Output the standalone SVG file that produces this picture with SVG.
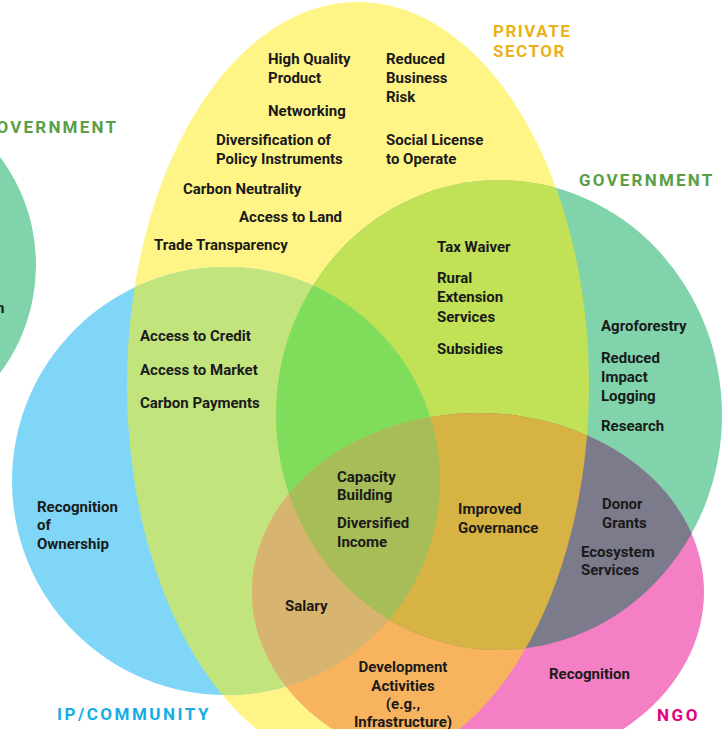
<svg xmlns="http://www.w3.org/2000/svg" width="727" height="729" viewBox="0 0 727 729">
<defs>
<style>
.t{font-family:Roboto,"Liberation Sans",sans-serif;font-weight:700;font-size:15px;fill:#1a1a1a}
.c{text-anchor:middle}
.lab{font-family:Roboto,"Liberation Sans",sans-serif;font-weight:700;font-size:17px}
.gov{fill:#5a9e47;letter-spacing:2.2px}
.ps{fill:#eab11b;letter-spacing:1.5px}
.ip{fill:#15ade6;letter-spacing:2.5px}
.ngo{fill:#e5007d;letter-spacing:2.6px}
</style>
<ellipse id="shY" cx="358" cy="385" rx="231" ry="383"/>
<circle id="shB" cx="226" cy="481" r="214"/>
<ellipse id="shG" cx="499" cy="415" rx="223" ry="235"/>
<ellipse id="shN" cx="478" cy="592" rx="226" ry="179"/>
<clipPath id="cY"><use href="#shY"/></clipPath>
<clipPath id="cB"><use href="#shB"/></clipPath>
<clipPath id="cG"><use href="#shG"/></clipPath>
</defs>
<rect width="727" height="729" fill="#ffffff"/>
<g id="shapes">
<circle id="gov-left" cx="-144" cy="265" r="180" fill="#80d3aa"/>
<use id="private-sector" href="#shY" fill="#fff586"/>
<use id="ip-community" href="#shB" fill="#80d6f7"/>
<use id="government" href="#shG" fill="#80d3aa"/>
<use id="ngo" href="#shN" fill="#f47fc4"/>
<use href="#shB" fill="#c1e47d" clip-path="url(#cY)"/>
<use href="#shG" fill="#c1e156" clip-path="url(#cY)"/>
<use href="#shN" fill="#f8b35f" clip-path="url(#cY)"/>
<use href="#shN" fill="#7b7b8b" clip-path="url(#cG)"/>
<use href="#shG" fill="#80dd5b" clip-path="url(#cB)"/>
<use href="#shN" fill="#d7b46f" clip-path="url(#cB)"/>
<g clip-path="url(#cY)"><use href="#shN" fill="#d7b344" clip-path="url(#cG)"/></g>
<g clip-path="url(#cB)"><use href="#shN" fill="#a7bd58" clip-path="url(#cG)"/></g>
</g>
<g id="labels">
<text class="lab gov" x="-3.5" y="132.5">OVERNMENT</text>
<text class="lab gov" x="579" y="186">GOVERNMENT</text>
<text class="lab ps" x="493" y="37">PRIVATE</text>
<text class="lab ps" x="493" y="57">SECTOR</text>
<text class="lab ip" x="57" y="720">IP/COMMUNITY</text>
<text class="lab ngo" x="657" y="720.5">NGO</text>
</g>
<g id="texts">
<text class="t" x="-4" y="313">n</text>
<text class="t" x="268" y="64">High Quality</text>
<text class="t" x="268" y="83">Product</text>
<text class="t" x="268" y="116">Networking</text>
<text class="t" x="386" y="64">Reduced</text>
<text class="t" x="386" y="83">Business</text>
<text class="t" x="386" y="102">Risk</text>
<text class="t" x="216" y="145">Diversification of</text>
<text class="t" x="216" y="164">Policy Instruments</text>
<text class="t" x="386" y="145">Social License</text>
<text class="t" x="386" y="164">to Operate</text>
<text class="t" x="183" y="194">Carbon Neutrality</text>
<text class="t" x="239" y="222">Access to Land</text>
<text class="t" x="154" y="250">Trade Transparency</text>
<text class="t" x="437" y="252">Tax Waiver</text>
<text class="t" x="437" y="283">Rural</text>
<text class="t" x="437" y="302">Extension</text>
<text class="t" x="437" y="322">Services</text>
<text class="t" x="437" y="354">Subsidies</text>
<text class="t" x="601" y="331">Agroforestry</text>
<text class="t" x="601" y="363">Reduced</text>
<text class="t" x="601" y="382">Impact</text>
<text class="t" x="601" y="401">Logging</text>
<text class="t" x="601" y="431">Research</text>
<text class="t" x="140" y="341">Access to Credit</text>
<text class="t" x="140" y="375">Access to Market</text>
<text class="t" x="140" y="408">Carbon Payments</text>
<text class="t" x="37" y="512">Recognition</text>
<text class="t" x="37" y="530">of</text>
<text class="t" x="37" y="549">Ownership</text>
<text class="t" x="337" y="482">Capacity</text>
<text class="t" x="337" y="500">Building</text>
<text class="t" x="337" y="528">Diversified</text>
<text class="t" x="337" y="547">Income</text>
<text class="t" x="458" y="514">Improved</text>
<text class="t" x="458" y="533">Governance</text>
<text class="t" x="602" y="509">Donor</text>
<text class="t" x="602" y="528">Grants</text>
<text class="t" x="581" y="557">Ecosystem</text>
<text class="t" x="581" y="575">Services</text>
<text class="t" x="285" y="611">Salary</text>
<text class="t c" x="403" y="672">Development</text>
<text class="t c" x="403" y="691">Activities</text>
<text class="t c" x="403" y="709">(e.g.,</text>
<text class="t c" x="403" y="726.5">Infrastructure)</text>
<text class="t" x="549" y="679">Recognition</text>
</g>
</svg>
